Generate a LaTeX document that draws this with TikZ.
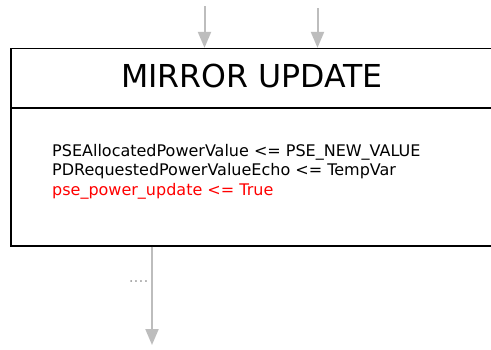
\documentclass[tikz,border=0pt]{standalone}
\usepackage{fontspec}
\setmainfont{DejaVu Sans}
\usetikzlibrary{arrows.meta}
\definecolor{arrgray}{HTML}{BDBDBD}
\definecolor{dotgray}{HTML}{A8A8A8}
\tikzset{
  flow/.style={draw=arrgray, line width=2pt, -{Triangle[length=16pt,width=13pt]}, arrgray},
  statebox/.style={draw=black, line width=1.3pt, rectangle, minimum width=482pt, minimum height=197.5pt, inner sep=0pt},
  bodytext/.style={anchor=base west, inner sep=0pt, font=\fontsize{16}{19}\selectfont},
}
\begin{document}
\begin{tikzpicture}[x=1pt,y=-1pt]
\clip (0,0) rectangle (491,349);
\fill[white] (0,0) rectangle (491,349);
\node[statebox] (box) at (252,147.25) {};
\coordinate (dl) at (11,108);
\coordinate (dr) at (493,108);
\draw[black, line width=1.3pt] (dl) -- (dr);
\node[inner sep=0pt, font=\fontsize{31.6}{37}\selectfont] (title) at (252,76) {MIRROR UPDATE};
\node[bodytext] (l1) at (52,156) {PSEAllocatedPowerValue <= PSE\_NEW\_VALUE};
\node[bodytext] (l2) at (52,175.5) {PDRequestedPowerValueEcho <= TempVar};
\node[bodytext, text=red] (l3) at (52,195) {pse\_power\_update <= True};
\coordinate (in1) at (204.5,6);
\coordinate (in2) at (317.5,8);
\coordinate (out) at (152,345);
\draw[flow] (in1) -- (in1 |- box.north);
\draw[flow] (in2) -- (in2 |- box.north);
\draw[flow] (out |- box.south) -- node[pos=0.35, left, inner sep=2.5pt, text=dotgray, font=\fontsize{15.5}{18}\selectfont] (dots) {....} (out);
\end{tikzpicture}
\end{document}
